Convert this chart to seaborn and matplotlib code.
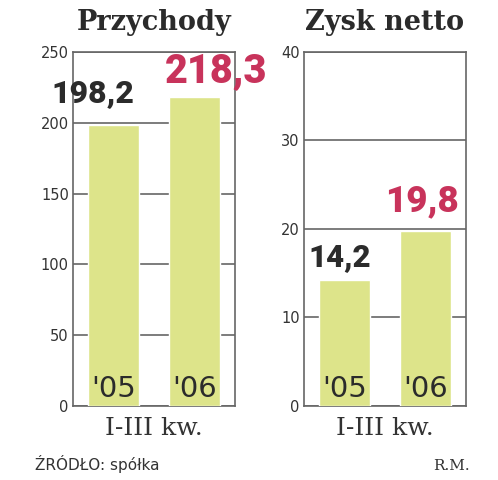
import matplotlib
matplotlib.use('agg')
import matplotlib.pyplot as plt
import pandas as pd
import seaborn as sns

# data
years = ["'05", "'06"]
revenue = [198.2, 218.3]
net_profit = [14.2, 19.8]
revenue_labels = ["198,2", "218,3"]
profit_labels = ["14,2", "19,8"]
revenue_ticks = [0, 50, 100, 150, 200, 250]
profit_ticks = [0, 10, 20, 30, 40]

bar_color = '#dde48a'
red = '#c8335b'
dark = '#2b2b2b'
line_color = '#666666'

sns.set_style('white')
plt.rcParams['font.family'] = ['DejaVu Sans']


def draw_panel(ax, values, labels, ticks, title, offsets, sizes):
    df = pd.DataFrame({'rok': years, 'wartosc': values})
    sns.barplot(data=df, x='rok', y='wartosc', color=bar_color, width=0.64,
                saturation=1, ax=ax, zorder=3)
    ax.set_ylim(ticks[0], ticks[-1])
    ax.set_xlim(-0.5, 1.5)
    ax.set_yticks(ticks)
    ax.set_axisbelow(True)
    ax.yaxis.grid(True, color=line_color, lw=1.2)
    ax.tick_params(axis='y', length=2, width=1.2, color=line_color, pad=1,
                   labelsize=10.5, labelcolor='#333333')
    ax.tick_params(axis='x', length=0, labelbottom=False)
    for side in ['left', 'right', 'top', 'bottom']:
        ax.spines[side].set_visible(True)
        ax.spines[side].set_color(line_color)
        ax.spines[side].set_linewidth(1.2)
    ax.set_ylabel('')
    ax.set_xlabel('I-III kw.', fontfamily='DejaVu Serif', fontsize=18,
                  color='#333333', labelpad=8)
    ax.set_title(title, fontfamily='DejaVu Serif', fontweight='bold',
                 fontsize=19.5, color=dark, pad=16)

    # year labels inside the bars
    for i, yr in enumerate(years):
        ax.text(i, 0.025, yr, transform=ax.get_xaxis_transform(), ha='center',
                va='baseline', fontsize=21, color=dark)

    # value labels: first year dark, second year red
    colors = [dark, red]
    for i, (v, lab) in enumerate(zip(values, labels)):
        ax.annotate(lab, xy=(i, v), xytext=offsets[i], textcoords='offset pixels',
                    ha='center', va='baseline', fontsize=sizes[i],
                    fontfamily='Roboto', fontweight='black', color=colors[i],
                    annotation_clip=False, zorder=5)


fig = plt.figure(figsize=(4.98, 4.8), dpi=100)
ax1 = fig.add_axes([0.1466, 0.1542, 0.3253, 0.7375])
ax2 = fig.add_axes([0.6104, 0.1542, 0.3253, 0.7375])

draw_panel(ax1, revenue, revenue_labels, revenue_ticks, 'Przychody',
           [(-21, 23), (22, 15)], [23, 28.5])
draw_panel(ax2, net_profit, profit_labels, profit_ticks, 'Zysk netto',
           [(-5, 14), (-4, 19)], [22.5, 26.5])

fig.text(35 / 498, 1 - 470 / 480, 'ŹRÓDŁO: spółka', fontsize=11,
         color='#333333', va='baseline')
fig.text(470 / 498, 1 - 470 / 480, 'R.M.', fontfamily='DejaVu Serif',
         fontsize=11, color='#333333', va='baseline', ha='right')

fig.savefig('out.png', dpi=100)
